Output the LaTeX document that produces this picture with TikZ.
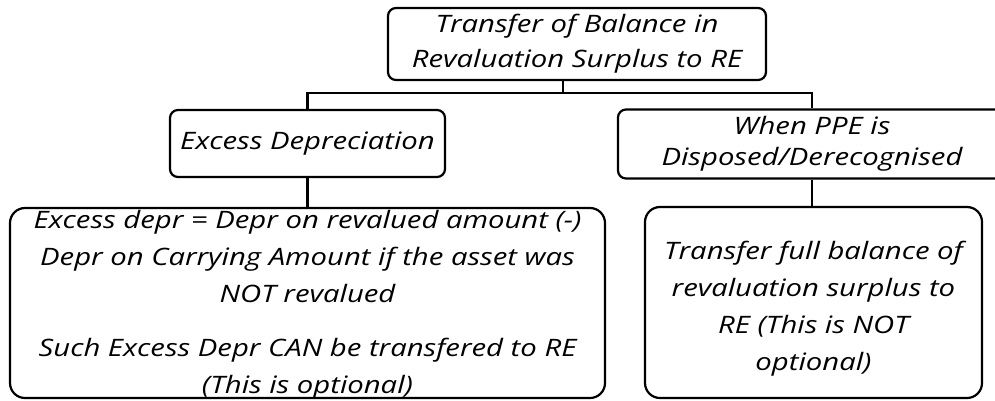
\documentclass[tikz,border=0pt]{standalone}
\usepackage{fontspec}
\setmainfont{Open Sans}[FakeStretch=1.22]
\begin{document}
\begin{tikzpicture}[x=1pt,y=-1pt,
  box/.style={draw=black, line width=2.2pt, rounded corners=8pt, align=center,
    inner sep=0pt, font=\itshape\fontsize{24}{35}\selectfont},
  bigbox/.style={box, rounded corners=15pt},
  bodytext/.style={align=center, inner sep=0pt, font=\itshape\fontsize{24}{37}\selectfont},
  link/.style={draw=black, line width=2.2pt}]
\useasboundingbox (0,0) rectangle (995,400);

% boxes
\node[box, minimum width=378pt, minimum height=72pt] (top) at (577,44)
  {Transfer of Balance in\\Revaluation Surplus to RE};
\node[box, minimum width=275pt, minimum height=67pt] (ed) at (307.5,143.5)
  {Excess Depreciation};
\node[box, minimum width=388pt, minimum height=69pt, font=\itshape\fontsize{24}{31}\selectfont] (ppe) at (812,144)
  {When PPE is\\Disposed/Derecognised};
\node[bigbox, minimum width=595pt, minimum height=190pt] (exd) at (307.5,303) {};
\node[bigbox, minimum width=337pt, minimum height=191pt] (full) at (813.5,302.5) {};

% box contents
\node[bodytext] (exdtext) at (307.5,305)
  {Excess depr = Depr on revalued amount (-)\\Depr on Carrying Amount if the asset was\\NOT revalued\\[17pt]Such Excess Depr CAN be transfered to RE\\(This is optional)};
\node[bodytext] (fulltext) at (813.5,309)
  {Transfer full balance of\\revaluation surplus to\\RE (This is NOT\\optional)};

% connectors
\coordinate (bus) at (563,93);
\draw[link] (top.south -| bus) -- (bus);
\draw[link] (ed.north) |- (bus) -| (ppe.north);
\draw[link] (ed.south) -- (exd.north);
\draw[link] (ppe.south) -- (ppe.south |- full.north);
\end{tikzpicture}
\end{document}
